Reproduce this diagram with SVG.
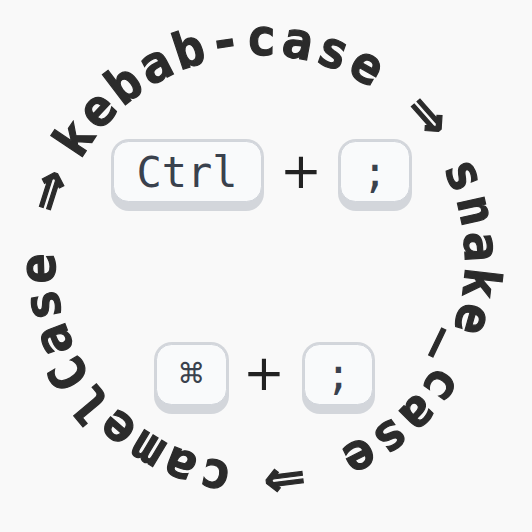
<svg xmlns="http://www.w3.org/2000/svg" width="532" height="532" viewBox="0 0 532 532">
<style>
.ring{font-family:"DejaVu Sans Mono",monospace;font-weight:bold;font-size:50px;letter-spacing:3.9px;fill:#2b2b2b;stroke:#2b2b2b;stroke-width:1.2}
.arr{font-family:"DejaVu Sans",sans-serif;font-weight:bold;letter-spacing:-5.9px}
.kb{fill:#d3d6db}
.kf{fill:#f9fafb;stroke:#d1d5db;stroke-width:1}
.kt{font-family:"DejaVu Sans Mono","Liberation Mono",monospace;font-size:42px;fill:#3a414d;text-anchor:middle}
.sym{font-family:"DejaVu Sans",sans-serif;font-size:28px;fill:#3a414d;text-anchor:middle}
.plus{font-family:"DejaVu Sans",sans-serif;font-size:50px;fill:#222;text-anchor:middle}
</style>
<defs>
<path id="ringPath" d="M80.7,160.6 A205,205 0 1 1 439.3,359.4 A205,205 0 1 1 80.7,160.6"/>
</defs>
<rect width="532" height="532" fill="#f9f9f9"/>
<g id="ring-label">
<text class="ring"><textPath href="#ringPath">kebab-case <tspan class="arr">⇒</tspan> snake_case <tspan class="arr">⇒</tspan> camelCase <tspan class="arr">⇒</tspan></textPath></text>
</g>
<g id="key-ctrl">
<rect class="kb" x="111" y="139" width="153" height="72" rx="18"/>
<rect class="kf" x="113.5" y="141.5" width="148" height="60" rx="15"/>
<text class="kt" x="187" y="187">Ctrl</text>
</g>
<g id="plus-1"><text class="plus" x="301" y="188">+</text></g>
<g id="key-semi-1">
<rect class="kb" x="338" y="139" width="74" height="72" rx="18"/>
<rect class="kf" x="340.5" y="141.5" width="69" height="60" rx="15"/>
<text class="kt" x="375" y="187">;</text>
</g>
<g id="key-cmd">
<rect class="kb" x="154" y="342" width="75" height="72" rx="18"/>
<rect class="kf" x="156.5" y="344.5" width="70" height="60" rx="15"/>
<text class="sym" x="191.5" y="383">⌘</text>
</g>
<g id="plus-2"><text class="plus" x="264" y="390">+</text></g>
<g id="key-semi-2">
<rect class="kb" x="302" y="342" width="73" height="72" rx="18"/>
<rect class="kf" x="304.5" y="344.5" width="68" height="60" rx="15"/>
<text class="kt" x="338.5" y="389">;</text>
</g>
</svg>
